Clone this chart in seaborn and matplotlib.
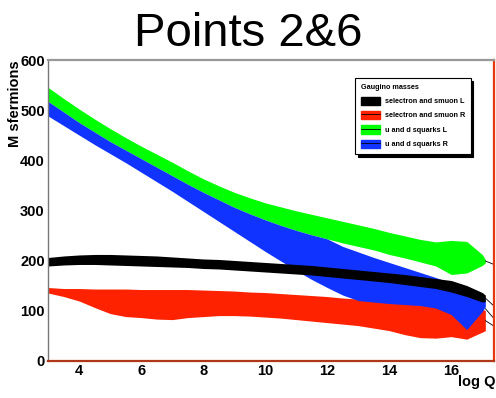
"""Sfermion mass bands vs log Q (Points 2&6)."""
import matplotlib
matplotlib.use("Agg")
import matplotlib.pyplot as plt
import seaborn as sns
from matplotlib.patches import Patch
from matplotlib.lines import Line2D
from matplotlib.ticker import MultipleLocator

# log Q sample points
log_q = [3, 3.5, 4, 4.5, 5, 5.5, 6, 6.5, 7, 7.5, 8, 8.5, 9, 9.5, 10, 10.5,
         11, 11.5, 12, 12.5, 13, 13.5, 14, 14.5, 15, 15.5, 16, 16.5, 17, 17.1]

# u and d squarks L (green band)
green_lo = [517, 496, 475, 456, 437, 420, 403, 386, 369, 352, 336, 321, 306, 293,
            281, 270, 260, 251, 243, 235, 228, 221, 212, 205, 197, 189, 172, 175,
            190, 195]
green_hi = [545, 523, 502, 482, 463, 445, 428, 412, 396, 379, 363, 349, 336, 325,
            315, 307, 299, 292, 285, 278, 271, 264, 256, 249, 242, 237, 240, 238,
            212, 202]

# u and d squarks R (blue band)
blue_lo = [488, 469, 450, 431, 413, 395, 376, 357, 338, 318, 298, 278, 258, 238,
           218, 199, 180, 162, 146, 131, 120, 117, 114, 112, 110, 105, 92, 62,
           98, 108]
blue_hi = [517, 496, 475, 456, 437, 420, 403, 386, 369, 352, 336, 321, 306, 293,
           281, 270, 260, 251, 243, 228, 217, 206, 196, 186, 176, 166, 155, 145,
           128, 120]

# selectron and smuon L (black band)
black_lo = [189, 191, 192, 192, 191, 190, 189, 188, 187, 186, 184, 183, 181, 179,
            177, 175, 173, 171, 168, 165, 162, 159, 156, 152, 148, 144, 137, 128,
            117, 118]
black_hi = [206, 209, 211, 212, 212, 211, 210, 209, 207, 205, 203, 202, 200, 198,
            196, 194, 192, 190, 187, 184, 181, 178, 175, 172, 168, 164, 160, 150,
            136, 131]

# selectron and smuon R (red band)
red_lo = [135, 128, 119, 106, 94, 88, 86, 83, 82, 86, 88, 90, 90, 89, 87, 85,
          82, 79, 76, 73, 70, 65, 60, 52, 46, 45, 48, 43, 57, 60]
red_hi = [146, 144, 144, 143, 143, 143, 142, 142, 142, 142, 141, 140, 139, 137,
          136, 134, 132, 130, 128, 125, 123, 120, 118, 115, 111, 110, 118, 122,
          103, 100]

# thin lines running on past the end of the bands
ext_q = [17.1, 17.38]
ext_lines = [[199, 192], [125, 109], [104, 84], [80, 69]]

labels = ["selectron and smuon L", "selectron and smuon R",
          "u and d squarks L", "u and d squarks R"]
colors = ["#000000", "#ff2200", "#00ff00", "#1133ff"]

sns.set_style("white")
plt.rcParams["font.family"] = ["Liberation Sans", "DejaVu Sans"]
plt.rcParams["text.color"] = "black"

fig = plt.figure(figsize=(4.96, 3.98), dpi=100)
ax = fig.add_axes([48.3 / 496, 1 - 360.7 / 398, (494 - 48.3) / 496, (360.7 - 60) / 398])

# draw order: red, green, blue, black
ax.fill_between(log_q, red_lo, red_hi, color=colors[1], lw=0)
ax.fill_between(log_q, green_lo, green_hi, color=colors[2], lw=0)
ax.fill_between(log_q, blue_lo, blue_hi, color=colors[3], lw=0)
ax.fill_between(log_q, black_lo, black_hi, color=colors[0], lw=0)
for ys in ext_lines:
    sns.lineplot(x=ext_q, y=ys, color="black", lw=0.6, ax=ax)

ax.set_xlim(3, 17.38)
ax.set_ylim(0, 600)
ax.xaxis.set_major_locator(MultipleLocator(2))
ax.xaxis.set_minor_locator(MultipleLocator(0.5))
ax.yaxis.set_major_locator(MultipleLocator(100))
ax.yaxis.set_minor_locator(MultipleLocator(20))
ax.set_xticks([4, 6, 8, 10, 12, 14, 16])
ax.tick_params(axis="both", which="both", direction="in", colors="#444444",
               width=0.8, labelcolor="black", labelsize=10.5, pad=2.5)
ax.tick_params(axis="y", which="major", length=8, right=False)
ax.tick_params(axis="y", which="minor", length=4, right=False)
ax.tick_params(axis="x", which="major", length=6, top=False)
ax.tick_params(axis="x", which="minor", length=3, top=False)
for lab in ax.get_xticklabels() + ax.get_yticklabels():
    lab.set_fontweight("bold")

ax.spines["left"].set_color("#777777")
ax.spines["left"].set_linewidth(1.0)
ax.spines["top"].set_color("#999999")
ax.spines["top"].set_linewidth(1.6)
ax.spines["right"].set_color("#e8380d")
ax.spines["right"].set_linewidth(1.6)
ax.spines["bottom"].set_color("#b03818")
ax.spines["bottom"].set_linewidth(1.6)

fig.text(0.5, 1 - 46 / 398, "Points 2&6", ha="center", va="baseline", fontsize=34,
         color="black")
fig.text(15 / 496, 1 - 60 / 398, "M sfermions", rotation=90, ha="center", va="top",
         fontsize=10.5, fontweight="bold", color="black")
fig.text(495 / 496, 1 - 386 / 398, "log Q", ha="right", va="baseline",
         fontsize=10.5, fontweight="bold", color="black")

handles = [Patch(facecolor=colors[0], edgecolor=colors[0])]
for c in colors[1:]:
    handles.append((Patch(facecolor=c, edgecolor=c), Line2D([], [], color="black", lw=0.6)))
leg = ax.legend(handles, labels, loc="upper left",
                bbox_to_anchor=(355 / 496, 1 - 78 / 398), bbox_transform=fig.transFigure,
                prop={"weight": "bold", "size": 5.2}, title="Gaugino masses",
                title_fontproperties={"weight": "bold", "size": 5.2}, alignment="left",
                handlelength=2.6, handleheight=1.4, handletextpad=0.7, labelspacing=0.8,
                borderpad=0.8, borderaxespad=0, fancybox=False, framealpha=1,
                edgecolor="black", shadow={"color": "black", "alpha": 1})
leg.get_frame().set_linewidth(0.8)

fig.savefig("out.png", dpi=100)
